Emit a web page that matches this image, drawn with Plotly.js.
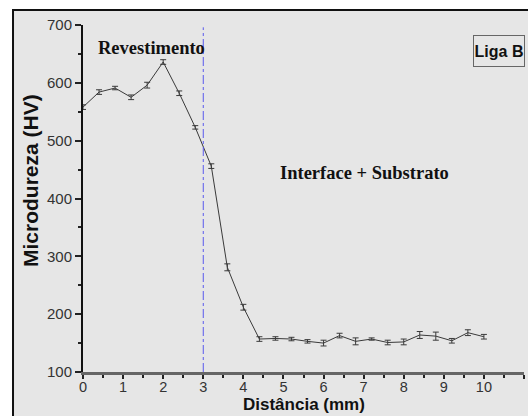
<!DOCTYPE html>
<html>
<head>
<meta charset="utf-8">
<script src="https://cdn.plot.ly/plotly-3.0.1.min.js"></script>
<style>html,body{margin:0;padding:0;background:#fff;}#chart{width:528px;height:416px;}</style>
</head>
<body>
<div id="chart"></div>
<script>
const distancia = [0, 0.4, 0.8, 1.2, 1.6, 2.0, 2.4, 2.8, 3.2, 3.6, 4.0, 4.4, 4.8, 5.2, 5.6, 6.0, 6.4, 6.8, 7.2, 7.6, 8.0, 8.4, 8.8, 9.2, 9.6, 10.0];
const microdureza = [558, 584, 591, 575, 596, 636, 582, 523, 456, 281, 212, 157, 158, 157, 153, 150, 163, 153, 157, 151, 152, 164, 162, 154, 168, 161];
const erro = [4, 4, 3, 4, 5, 4, 4, 3, 4, 6, 5, 4, 3, 3, 3, 5, 4, 6, 2, 4, 5, 6, 7, 4, 5, 4];
const interfaceX = 3;
const xTicks = [0, 1, 2, 3, 4, 5, 6, 7, 8, 9, 10, 11];
const yTicks = [100, 200, 300, 400, 500, 600, 700];
const xTitle = 'Distância (mm)';
const yTitle = 'Microdureza (HV)';

const trace = {
  x: distancia, y: microdureza, type: 'scatter', mode: 'lines',
  line: {color: '#3a3a3a', width: 1},
  error_y: {type: 'data', array: erro, visible: true, color: '#3a3a3a', thickness: 1, width: 3},
  showlegend: false, hoverinfo: 'none'
};

const titleFont = {color: '#111111', family: 'Liberation Sans, Arial, sans-serif', weight: 'bold'};

const layout = {
  width: 528, height: 416,
  margin: {l: 83, r: 4, t: 25, b: 44},
  paper_bgcolor: '#ffffff',
  plot_bgcolor: 'rgba(0,0,0,0)',
  font: {family: 'Liberation Sans, Arial, sans-serif', size: 15, color: '#333333'},
  xaxis: {
    range: [0, 11], tickvals: xTicks, ticktext: xTicks.map(String),
    ticks: 'outside', ticklen: 4, tickwidth: 2, tickcolor: '#222',
    ticklabelstandoff: -4,
    minor: {dtick: 0.5, tick0: 0, ticks: 'outside', ticklen: 3, tickwidth: 2, tickcolor: '#222', showgrid: false},
    showline: true, linecolor: '#666666', linewidth: 3,
    showgrid: false, zeroline: false,
    tickfont: {size: 14.5, color: '#333333'}
  },
  yaxis: {
    range: [100, 700], tickvals: yTicks, ticktext: yTicks.map(String),
    ticks: 'outside', ticklen: 6, tickwidth: 2, tickcolor: '#222',
    minor: {dtick: 50, tick0: 100, ticks: 'outside', ticklen: 3, tickwidth: 2, tickcolor: '#222', showgrid: false},
    showline: true, linecolor: '#111111', linewidth: 2,
    showgrid: false, zeroline: false,
    tickfont: {size: 15, color: '#333333'}
  },
  shapes: [
    {type: 'rect', xref: 'paper', yref: 'paper', x0: -0.1587, x1: 1.2, y0: -0.3, y1: 1.0432,
     fillcolor: '#e6e6e6', line: {color: '#111111', width: 2}, layer: 'below'},
    {type: 'line', xref: 'x', yref: 'y', x0: interfaceX, x1: interfaceX, y0: 100, y1: 696,
     line: {color: '#5a5aee', width: 1, dash: 'dashdot'}}
  ],
  annotations: [
    {text: '<b>' + xTitle + '</b>', xref: 'paper', yref: 'paper', x: 0.5, y: -0.1268,
     xanchor: 'center', yanchor: 'bottom', showarrow: false, font: Object.assign({size: 17}, titleFont)},
    {text: '<b>' + yTitle + '</b>', xref: 'paper', yref: 'paper', x: -0.1202, y: 0.5533,
     xanchor: 'center', yanchor: 'middle', textangle: -90, showarrow: false, font: Object.assign({size: 21}, titleFont)},
    {text: '<b>Revestimento</b>', x: 1.72, y: 661, xref: 'x', yref: 'y', showarrow: false,
     font: {family: 'Liberation Serif, Times New Roman, serif', size: 18.5, color: '#111111'}},
    {text: '<b>Interface + Substrato</b>', x: 7.01, y: 444, xref: 'x', yref: 'y', showarrow: false,
     font: {family: 'Liberation Serif, Times New Roman, serif', size: 18.5, color: '#111111'}},
    {text: '<b>Liga B</b>', x: 10.375, y: 655, xref: 'x', yref: 'y', showarrow: false,
     font: {family: 'Liberation Sans, Arial, sans-serif', size: 16, color: '#111111'},
     bordercolor: '#666666', borderwidth: 1, borderpad: 0, width: 50, height: 30, bgcolor: 'rgba(0,0,0,0)'}
  ]
};

Plotly.newPlot('chart', [trace], layout, {displayModeBar: false, staticPlot: true});
</script>
</body>
</html>
